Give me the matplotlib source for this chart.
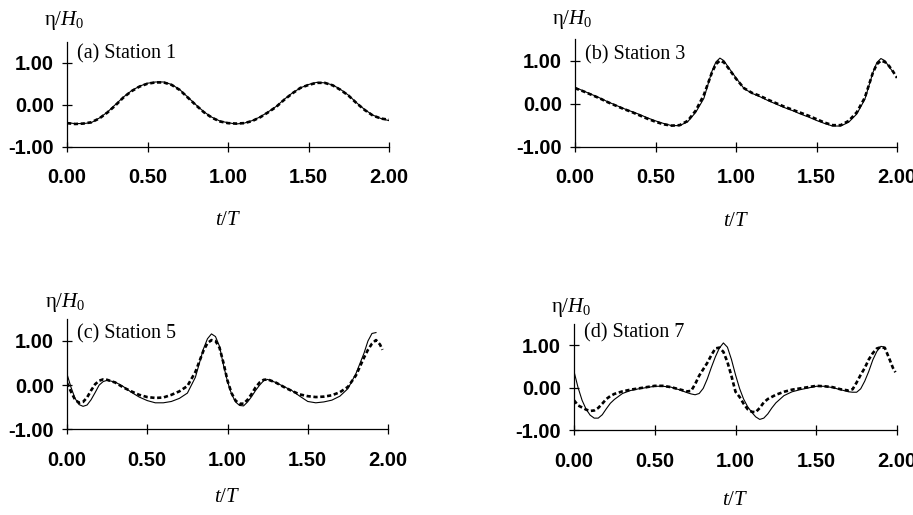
import matplotlib
matplotlib.use('Agg')
import matplotlib.pyplot as plt

plt.rcParams['mathtext.fontset'] = 'custom'
plt.rcParams['mathtext.rm'] = 'Liberation Serif'
plt.rcParams['mathtext.it'] = 'Liberation Serif:italic'

# Station 1
t_a = [0.00, 0.05, 0.10, 0.15, 0.20, 0.25, 0.30, 0.35, 0.40, 0.45, 0.50, 0.55, 0.60, 0.65,
       0.70, 0.75, 0.80, 0.85, 0.90, 0.95, 1.00, 1.05, 1.10, 1.15, 1.20, 1.25, 1.30, 1.35,
       1.40, 1.45, 1.50, 1.55, 1.60, 1.65, 1.70, 1.75, 1.80, 1.85, 1.90, 1.95, 2.00]
num_a = [-0.43, -0.45, -0.45, -0.43, -0.32, -0.18, 0.00, 0.18, 0.33, 0.44, 0.51, 0.54, 0.54, 0.48,
         0.36, 0.18, 0.00, -0.17, -0.30, -0.39, -0.43, -0.46, -0.44, -0.38, -0.29, -0.17, -0.04, 0.13,
         0.28, 0.40, 0.48, 0.53, 0.52, 0.47, 0.36, 0.22, 0.04, -0.12, -0.25, -0.33, -0.38]
exp_a = [-0.44, -0.46, -0.45, -0.42, -0.33, -0.19, -0.02, 0.17, 0.32, 0.43, 0.50, 0.53, 0.53, 0.47,
         0.35, 0.17, -0.01, -0.18, -0.31, -0.40, -0.44, -0.45, -0.44, -0.39, -0.30, -0.18, -0.05, 0.12,
         0.27, 0.40, 0.47, 0.52, 0.52, 0.46, 0.35, 0.21, 0.03, -0.13, -0.26, -0.33, -0.36]

# Station 3
t_b = [0.00, 0.05, 0.10, 0.15, 0.20, 0.25, 0.30, 0.35, 0.40, 0.45, 0.50, 0.55, 0.60, 0.65,
       0.70, 0.75, 0.80, 0.85, 0.875, 0.90, 0.925, 0.95, 1.00, 1.05, 1.10, 1.15, 1.20, 1.25,
       1.30, 1.35, 1.40, 1.45, 1.50, 1.55, 1.60, 1.65, 1.70, 1.75, 1.80, 1.85, 1.875, 1.90,
       1.925, 1.95, 1.975, 2.00]
num_b = [0.38, 0.30, 0.22, 0.14, 0.05, -0.03, -0.11, -0.18, -0.25, -0.33, -0.40, -0.46, -0.51, -0.51,
         -0.42, -0.20, 0.12, 0.75, 0.97, 1.06, 1.00, 0.86, 0.60, 0.35, 0.24, 0.16, 0.07, -0.01,
         -0.09, -0.16, -0.24, -0.31, -0.39, -0.46, -0.52, -0.52, -0.43, -0.24, 0.10, 0.72, 0.96, 1.05,
         1.00, 0.86, 0.74, None]
exp_b = [0.36, 0.29, 0.21, 0.13, 0.04, -0.04, -0.12, -0.19, -0.27, -0.35, -0.42, -0.48, -0.51, -0.50,
         -0.40, -0.16, 0.20, 0.72, 0.92, 1.00, 0.96, 0.84, 0.58, 0.36, 0.25, 0.18, 0.09, 0.01,
         -0.07, -0.14, -0.21, -0.28, -0.36, -0.44, -0.50, -0.50, -0.40, -0.20, 0.14, 0.72, 0.92, 1.00,
         0.97, 0.88, 0.75, 0.60]

# Station 5
t_c = [0.00, 0.025, 0.05, 0.075, 0.10, 0.125, 0.15, 0.175, 0.20, 0.225, 0.25, 0.30, 0.35, 0.40,
       0.45, 0.50, 0.55, 0.60, 0.65, 0.70, 0.75, 0.80, 0.85, 0.875, 0.90, 0.925, 0.95, 0.975,
       1.00, 1.025, 1.05, 1.075, 1.10, 1.125, 1.15, 1.175, 1.20, 1.225, 1.25, 1.30, 1.35, 1.40,
       1.45, 1.50, 1.55, 1.60, 1.65, 1.70, 1.75, 1.80, 1.85, 1.875, 1.90, 1.925, 1.95, 1.965]
num_c = [0.25, -0.05, -0.30, -0.44, -0.48, -0.45, -0.33, -0.17, 0.00, 0.08, 0.11, 0.07, -0.03, -0.16,
         -0.27, -0.35, -0.40, -0.40, -0.37, -0.30, -0.18, 0.18, 0.82, 1.05, 1.16, 1.10, 0.88, 0.45,
         0.08, -0.20, -0.38, -0.46, -0.47, -0.38, -0.26, -0.12, 0.00, 0.10, 0.13, 0.06, -0.03, -0.12,
         -0.25, -0.37, -0.40, -0.38, -0.34, -0.25, -0.08, 0.26, 0.72, 1.00, 1.17, 1.19, None, None]
exp_c = [0.05, -0.15, -0.33, -0.40, -0.38, -0.28, -0.12, 0.02, 0.10, 0.13, 0.12, 0.06, -0.05, -0.14,
         -0.22, -0.27, -0.29, -0.28, -0.22, -0.14, -0.02, 0.30, 0.78, 0.95, 1.02, 1.00, 0.85, 0.50,
         0.10, -0.18, -0.35, -0.42, -0.42, -0.33, -0.20, -0.05, 0.06, 0.12, 0.13, 0.06, -0.04, -0.13,
         -0.21, -0.25, -0.27, -0.26, -0.23, -0.16, -0.04, 0.22, 0.62, 0.80, 0.94, 1.02, 0.92, 0.80]

# Station 7
t_d = [0.00, 0.025, 0.05, 0.075, 0.10, 0.125, 0.15, 0.175, 0.20, 0.225, 0.25, 0.30, 0.35, 0.40,
       0.45, 0.50, 0.55, 0.60, 0.65, 0.70, 0.725, 0.75, 0.775, 0.80, 0.825, 0.85, 0.875, 0.90,
       0.925, 0.95, 0.975, 1.00, 1.025, 1.05, 1.075, 1.10, 1.125, 1.15, 1.175, 1.20, 1.225, 1.25,
       1.30, 1.35, 1.40, 1.45, 1.50, 1.55, 1.60, 1.65, 1.70, 1.725, 1.75, 1.775, 1.80, 1.825,
       1.85, 1.875, 1.90, 1.925, 1.95, 1.975, 1.99]
num_d = [0.38, 0.00, -0.30, -0.51, -0.65, -0.72, -0.72, -0.64, -0.50, -0.37, -0.28, -0.14, -0.07, -0.03,
         0.00, 0.03, 0.03, 0.01, -0.05, -0.12, -0.15, -0.17, -0.14, -0.02, 0.20, 0.47, 0.72, 0.93,
         1.05, 0.95, 0.66, 0.30, -0.02, -0.27, -0.45, -0.58, -0.69, -0.75, -0.72, -0.62, -0.48, -0.36,
         -0.19, -0.10, -0.05, -0.01, 0.03, 0.03, 0.00, -0.05, -0.10, -0.11, -0.11, -0.03, 0.15, 0.38,
         0.65, 0.85, 0.97, 0.95, None, None, None]
exp_d = [-0.30, -0.42, -0.47, -0.52, -0.55, -0.54, -0.48, -0.38, -0.27, -0.20, -0.15, -0.09, -0.05, -0.02,
         0.01, 0.04, 0.04, 0.01, -0.04, -0.09, -0.08, 0.08, 0.28, 0.43, 0.58, 0.76, 0.92, 0.94,
         0.84, 0.60, 0.27, -0.10, -0.22, -0.38, -0.51, -0.57, -0.58, -0.48, -0.35, -0.27, -0.22, -0.17,
         -0.10, -0.05, -0.02, 0.01, 0.04, 0.03, 0.01, -0.04, -0.07, -0.04, 0.12, 0.30, 0.46, 0.66,
         0.81, 0.92, 0.95, 0.93, 0.70, 0.46, 0.36]

# data, title, axes rect, title height, xlabel height, ylabel height
panels = [
    (t_a, num_a, exp_a, '(a) Station 1', [0.0734, 0.7152, 0.3527, 0.2039], 1.20, -2.72, 2.00),
    (t_b, num_b, exp_b, '(b) Station 3', [0.6298, 0.7152, 0.3527, 0.2087], 1.14, -2.70, 1.95),
    (t_c, num_c, exp_c, '(c) Station 5', [0.0734, 0.1664, 0.3516, 0.2144], 1.17, -2.50, 1.86),
    (t_d, num_d, exp_d, '(d) Station 7', [0.6287, 0.1650, 0.3538, 0.2062], 1.29, -2.63, 1.88),
]

xticks = [0.0, 0.5, 1.0, 1.5, 2.0]
yticks = [-1.0, 0.0, 1.0]

fig = plt.figure(figsize=(9.13, 5.15), dpi=100)

for t, num, exp, title, pos, ty, xly, yly in panels:
    ax = fig.add_axes(pos)
    tn = [a for a, b in zip(t, num) if b is not None]
    vn = [b for b in num if b is not None]
    ax.plot(tn, vn, color='black', lw=0.8)
    ax.plot(t, exp, color='black', lw=1.9, dashes=(1.6, 1.0))

    ax.set_xlim(0, 2.0)
    ax.set_ylim(-1.0, 1.5)
    ax.set_xticks(xticks)
    ax.set_yticks(yticks)
    ax.set_xticklabels(['%.2f' % v for v in xticks])
    ax.set_yticklabels(['%.2f' % v for v in yticks])
    for lab in ax.get_xticklabels() + ax.get_yticklabels():
        lab.set_fontfamily('Liberation Sans')
        lab.set_fontweight('bold')
        lab.set_fontsize(14.5)
    ax.tick_params(axis='both', direction='inout', length=7, width=0.9, color='black')
    ax.tick_params(axis='x', pad=12)
    ax.tick_params(axis='y', pad=6)
    ax.spines['top'].set_visible(False)
    ax.spines['right'].set_visible(False)
    ax.spines['left'].set_linewidth(0.9)
    ax.spines['bottom'].set_linewidth(0.9)

    ax.text(0.06, ty, title, family='Liberation Serif', fontsize=14.5, ha='left', va='center')
    ax.text(-0.14, yly, r'$\mathrm{\eta}/H_{\mathrm{0}}$', fontsize=15, ha='left', va='center')
    ax.text(1.0, xly, r'$t/T$', fontsize=15, ha='center', va='center')

fig.savefig('out.png', dpi=100)
